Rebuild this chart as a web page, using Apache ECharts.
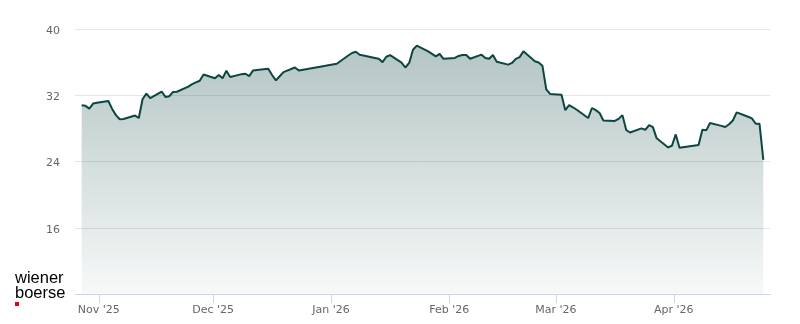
<!DOCTYPE html>
<html>
<head>
<meta charset="utf-8">
<style>
  html, body { margin: 0; padding: 0; background: #ffffff; }
  #chart { width: 800px; height: 324px; }
</style>
<script src="https://cdn.jsdelivr.net/npm/echarts@6/dist/echarts.min.js"></script>
</head>
<body>
<div id="chart"></div>
<script>
const dates = [
  '2025-10-27','2025-10-28','2025-10-29','2025-10-30','2025-10-31',
  '2025-11-03','2025-11-04','2025-11-05','2025-11-06','2025-11-07',
  '2025-11-10','2025-11-11','2025-11-12','2025-11-13','2025-11-14',
  '2025-11-17','2025-11-18','2025-11-19','2025-11-20','2025-11-21',
  '2025-11-24','2025-11-25','2025-11-26','2025-11-27','2025-11-28',
  '2025-12-01','2025-12-02','2025-12-03','2025-12-04','2025-12-05',
  '2025-12-08','2025-12-09','2025-12-10','2025-12-11','2025-12-12',
  '2025-12-15','2025-12-16','2025-12-17','2025-12-18','2025-12-19',
  '2025-12-22','2025-12-23','2025-12-29','2025-12-30','2026-01-02',
  '2026-01-05','2026-01-06','2026-01-07','2026-01-08','2026-01-09',
  '2026-01-12','2026-01-13','2026-01-14','2026-01-15','2026-01-16',
  '2026-01-19','2026-01-20','2026-01-21','2026-01-22','2026-01-23',
  '2026-01-26','2026-01-27','2026-01-28','2026-01-29','2026-01-30',
  '2026-02-02','2026-02-03','2026-02-04','2026-02-05','2026-02-06',
  '2026-02-09','2026-02-10','2026-02-11','2026-02-12','2026-02-13',
  '2026-02-16','2026-02-17','2026-02-18','2026-02-19','2026-02-20',
  '2026-02-23','2026-02-24','2026-02-25','2026-02-26','2026-02-27',
  '2026-03-02','2026-03-03','2026-03-04','2026-03-05','2026-03-06',
  '2026-03-09','2026-03-10','2026-03-11','2026-03-12','2026-03-13',
  '2026-03-16','2026-03-17','2026-03-18','2026-03-19','2026-03-20',
  '2026-03-23','2026-03-24','2026-03-25','2026-03-26','2026-03-27',
  '2026-03-30','2026-03-31','2026-04-01','2026-04-02',
  '2026-04-07','2026-04-08','2026-04-09','2026-04-10',
  '2026-04-13','2026-04-14','2026-04-15','2026-04-16','2026-04-17',
  '2026-04-20','2026-04-21','2026-04-22','2026-04-23','2026-04-24'
];
const prices = [
  30.8, 30.72, 30.38, 31.0, 31.1,
  31.3, 30.35, 29.6, 29.1, 29.13,
  29.55, 29.25, 31.55, 32.2, 31.65,
  32.45, 31.8, 31.88, 32.4, 32.42,
  33.05, 33.35, 33.55, 33.75, 34.5,
  34.05, 34.45, 34.05, 34.95, 34.2,
  34.55, 34.6, 34.3, 35.0, 35.05,
  35.2, 34.45, 33.8, 34.3, 34.8,
  35.35, 35.0, 35.48, 35.55, 35.8,
  36.8, 37.1, 37.25, 36.9, 36.8,
  36.5, 36.4, 36.0, 36.65, 36.85,
  35.95, 35.35, 35.9, 37.5, 38.0,
  37.3, 37.0, 36.7, 37.0, 36.4,
  36.5, 36.75, 36.85, 36.85, 36.4,
  36.9, 36.5, 36.4, 36.85, 36.05,
  35.7, 35.9, 36.4, 36.6, 37.3,
  36.1, 35.95, 35.55, 32.7, 32.16,
  32.07, 30.2, 30.8, 30.55, 30.25,
  29.25, 30.46, 30.2, 29.85, 28.95,
  28.9, 29.15, 29.6, 27.8, 27.5,
  28.0, 27.83, 28.4, 28.15, 26.8,
  25.7, 25.9, 27.27, 25.65,
  25.98, 27.83, 27.76, 28.64,
  28.3, 28.16, 28.5, 28.95, 29.94,
  29.4, 29.2, 28.56, 28.56, 24.2
];
const tickDates = ['2025-11-01','2025-12-01','2026-01-01','2026-02-01','2026-03-01','2026-04-01'];
const tickLabels = ["Nov '25","Dec '25","Jan '26","Feb '26","Mar '26","Apr '26"];
const yTicks = [8, 16, 24, 32, 40];

function ts(s, hours) {
  const p = s.split('-').map(Number);
  return Date.UTC(p[0], p[1] - 1, p[2]) + (hours || 0) * 3600000;
}
const seriesData = dates.map((d, i) => [ts(d, 12), prices[i]]);
const tickValues = tickDates.map(d => ts(d));
const first = seriesData[0][0], last = seriesData[seriesData.length - 1][0];
const pad = (last - first) * 0.0098;

const chart = echarts.init(document.getElementById('chart'), null, { renderer: 'canvas' });
chart.setOption({
  animation: false,
  backgroundColor: '#ffffff',
  grid: { left: 75, right: 30, top: 29, bottom: 30, containLabel: false },
  xAxis: {
    type: 'value',
    min: first - pad,
    max: last + pad,
    scale: true,
    axisLine: { show: true, onZero: false, lineStyle: { color: '#ccd6eb', width: 1 } },
    axisTick: { show: true, length: 9, lineStyle: { color: '#ccd6eb' }, customValues: tickValues },
    axisLabel: {
      customValues: tickValues,
      showMinLabel: true,
      showMaxLabel: true,
      color: '#666666',
      fontSize: 11,
      fontFamily: 'DejaVu Sans',
      margin: 11,
      formatter: function (v) {
        const i = tickValues.indexOf(v);
        return i >= 0 ? tickLabels[i] : '';
      }
    },
    splitLine: { show: false }
  },
  yAxis: {
    type: 'value',
    min: yTicks[0],
    max: yTicks[yTicks.length - 1],
    interval: 8,
    axisLine: { show: false },
    axisTick: { show: false },
    axisLabel: {
      showMinLabel: false,
      color: '#666666',
      fontSize: 11,
      fontFamily: 'DejaVu Sans',
      margin: 15,
      verticalAlign: 'top',
      lineHeight: 4
    },
    splitLine: { show: true, lineStyle: { color: '#e6e6e6', width: 1 } }
  },
  series: [{
    type: 'line',
    data: seriesData,
    showSymbol: false,
    symbol: 'none',
    smooth: false,
    lineStyle: { color: '#0c4640', width: 2 },
    itemStyle: { color: '#0c4640' },
    areaStyle: {
      origin: 'start',
      color: new echarts.graphic.LinearGradient(0, 0, 0, 1, [
        { offset: 0, color: 'rgba(15,72,66,0.45)' },
        { offset: 1, color: 'rgba(15,72,66,0.05)' }
      ])
    }
  }],
  graphic: [
    { type: 'text', left: 15, top: 270, style: { text: 'wiener', font: '16.5px "Liberation Sans", Arial, sans-serif', fill: '#000000' } },
    { type: 'text', left: 15, top: 285, style: { text: 'boerse', font: '16.5px "Liberation Sans", Arial, sans-serif', fill: '#000000' } },
    { type: 'rect', shape: { x: 15, y: 302, width: 4, height: 4 }, style: { fill: '#e2001a' } }
  ]
});
</script>
</body>
</html>
